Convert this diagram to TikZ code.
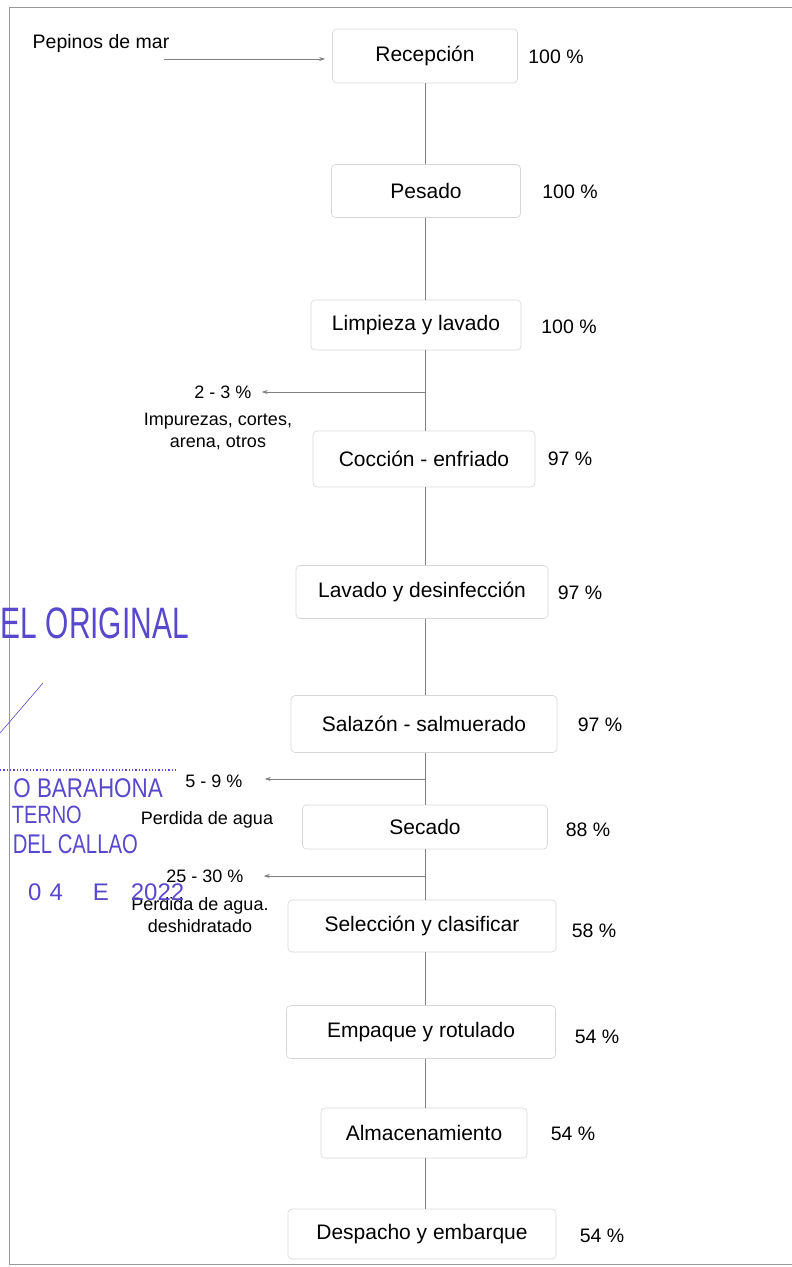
\documentclass[tikz,border=0pt]{standalone}
\usepackage{fontspec}
\setmainfont{Liberation Sans}
\usetikzlibrary{arrows.meta,calc}
\definecolor{stampblue}{RGB}{88,72,205}
\begin{document}
\begin{tikzpicture}[x=1pt,y=-1pt,
  stepbox/.style={draw=black!16, line width=0.6pt, rounded corners=4pt, inner sep=0pt, font=\fontsize{21}{24}\selectfont},
  pct/.style={font=\fontsize{19.5}{22}\selectfont, inner sep=0pt},
  small/.style={font=\fontsize{18}{22}\selectfont, inner sep=0pt, align=center},
  conn/.style={draw=black!50, line width=0.7pt},
  outarrow/.style={conn, -{Stealth[length=6pt,width=4pt]}},
  stamp/.style={text=stampblue, inner sep=0pt}]
\useasboundingbox (0,0) rectangle (792,1267);
% frame
\draw[black!40, line width=0.6pt] (792,7) -- (9,7) -- (9,1264) -- (792,1264);

% process boxes
\node[stepbox, minimum width=185pt, minimum height=54pt] (rec) at (425,56) {Recepción};
\node[stepbox, minimum width=189pt, minimum height=53pt] (pes) at (426,191) {Pesado};
\node[stepbox, minimum width=210pt, minimum height=50pt] (lim) at (416,325) {Limpieza y lavado};
\node[stepbox, minimum width=222pt, minimum height=56pt] (coc) at (424,459) {Cocción - enfriado};
\node[stepbox, minimum width=252pt, minimum height=53pt] (lav) at (422,592) {Lavado y desinfección};
\node[stepbox, minimum width=266pt, minimum height=57pt] (sal) at (424,724) {Salazón - salmuerado};
\node[stepbox, minimum width=245pt, minimum height=44pt] (sec) at (425,827) {Secado};
\node[stepbox, minimum width=268pt, minimum height=52pt] (sel) at (422,926) {Selección y clasificar};
\node[stepbox, minimum width=269pt, minimum height=53pt] (emp) at (421,1032) {Empaque y rotulado};
\node[stepbox, minimum width=206pt, minimum height=50pt] (alm) at (424,1133) {Almacenamiento};
\node[stepbox, minimum width=268pt, minimum height=50pt] (des) at (422,1234) {Despacho y embarque};

% percentages
\node[pct] (p1) at (556,57) {100 \%};
\node[pct] (p2) at (570,192) {100 \%};
\node[pct] (p3) at (569,327) {100 \%};
\node[pct] (p4) at (570,459) {97 \%};
\node[pct] (p5) at (580,593) {97 \%};
\node[pct] (p6) at (600,725) {97 \%};
\node[pct] (p7) at (588,830) {88 \%};
\node[pct] (p8) at (594,931) {58 \%};
\node[pct] (p9) at (597,1037) {54 \%};
\node[pct] (p10) at (573,1134) {54 \%};
\node[pct] (p11) at (602,1236) {54 \%};

% input
\node[font=\fontsize{19.5}{22}\selectfont, inner sep=0pt] (pep) at (101,43) {Pepinos de mar};
\coordinate (a0) at (164,59);
\draw[outarrow, shorten >=7pt] (a0) -- (a0 -| rec.west);

% main connectors
\coordinate (cx) at (425,0);
\draw[conn] (rec.south -| cx) -- (pes.north -| cx);
\draw[conn] (pes.south -| cx) -- (lim.north -| cx);
\draw[conn] (lim.south -| cx) -- (coc.north -| cx);
\draw[conn] (coc.south -| cx) -- (lav.north -| cx);
\draw[conn] (lav.south -| cx) -- (sal.north -| cx);
\draw[conn] (sal.south -| cx) -- (sec.north -| cx);
\draw[conn] (sec.south -| cx) -- (sel.north -| cx);
\draw[conn] (sel.south -| cx) -- (emp.north -| cx);
\draw[conn] (emp.south -| cx) -- (alm.north -| cx);
\draw[conn] (alm.south -| cx) -- (des.north -| cx);

% losses
\node[small] (l1) at (223,392) {2 - 3 \%};
\node[small] (l1t) at (218,431) {Impurezas, cortes,\\arena, otros};
\coordinate (j1) at (425,392);
\draw[outarrow, shorten >=10pt] (j1) -- (j1 -| l1.east);

\node[small] (l2) at (214,781) {5 - 9 \%};
\node[small] (l2t) at (207,820) {Perdida de agua};
\coordinate (j2) at (425,779);
\draw[outarrow, shorten >=22pt] (j2) -- (j2 -| l2.east);

\node[small] (l3) at (205,876) {25 - 30 \%};
\node[small] (l3t) at (200,915) {Perdida de agua.\\deshidratado};
\coordinate (j3) at (425,876);
\draw[outarrow, shorten >=20pt] (j3) -- (j3 -| l3.east);

% stamp
\node[stamp, anchor=base east] (s1) at (189,638) {\scalebox{0.68}[1]{\fontsize{44}{44}\selectfont EL ORIGINAL}};
\draw[stampblue, line width=0.6pt] (0,733) -- (43,683);
\draw[stampblue, line width=1.3pt, dotted] (0,770) -- (176,770);
\node[stamp, anchor=base east] (s2) at (163,797) {\scalebox{0.83}[1]{\fontsize{27}{27}\selectfont O BARAHONA}};
\node[stamp, anchor=base east] (s3) at (82,823) {\scalebox{0.8}[1]{\fontsize{25}{25}\selectfont TERNO}};
\node[stamp, anchor=base east] (s4) at (138,853) {\scalebox{0.75}[1]{\fontsize{27}{27}\selectfont DEL CALLAO}};
\node[stamp, anchor=base west] (s5) at (28,900) {\fontsize{24}{24}\selectfont 0\hspace{8pt}4\hspace{30pt}E\hspace{22pt}2022};
\end{tikzpicture}
\end{document}
